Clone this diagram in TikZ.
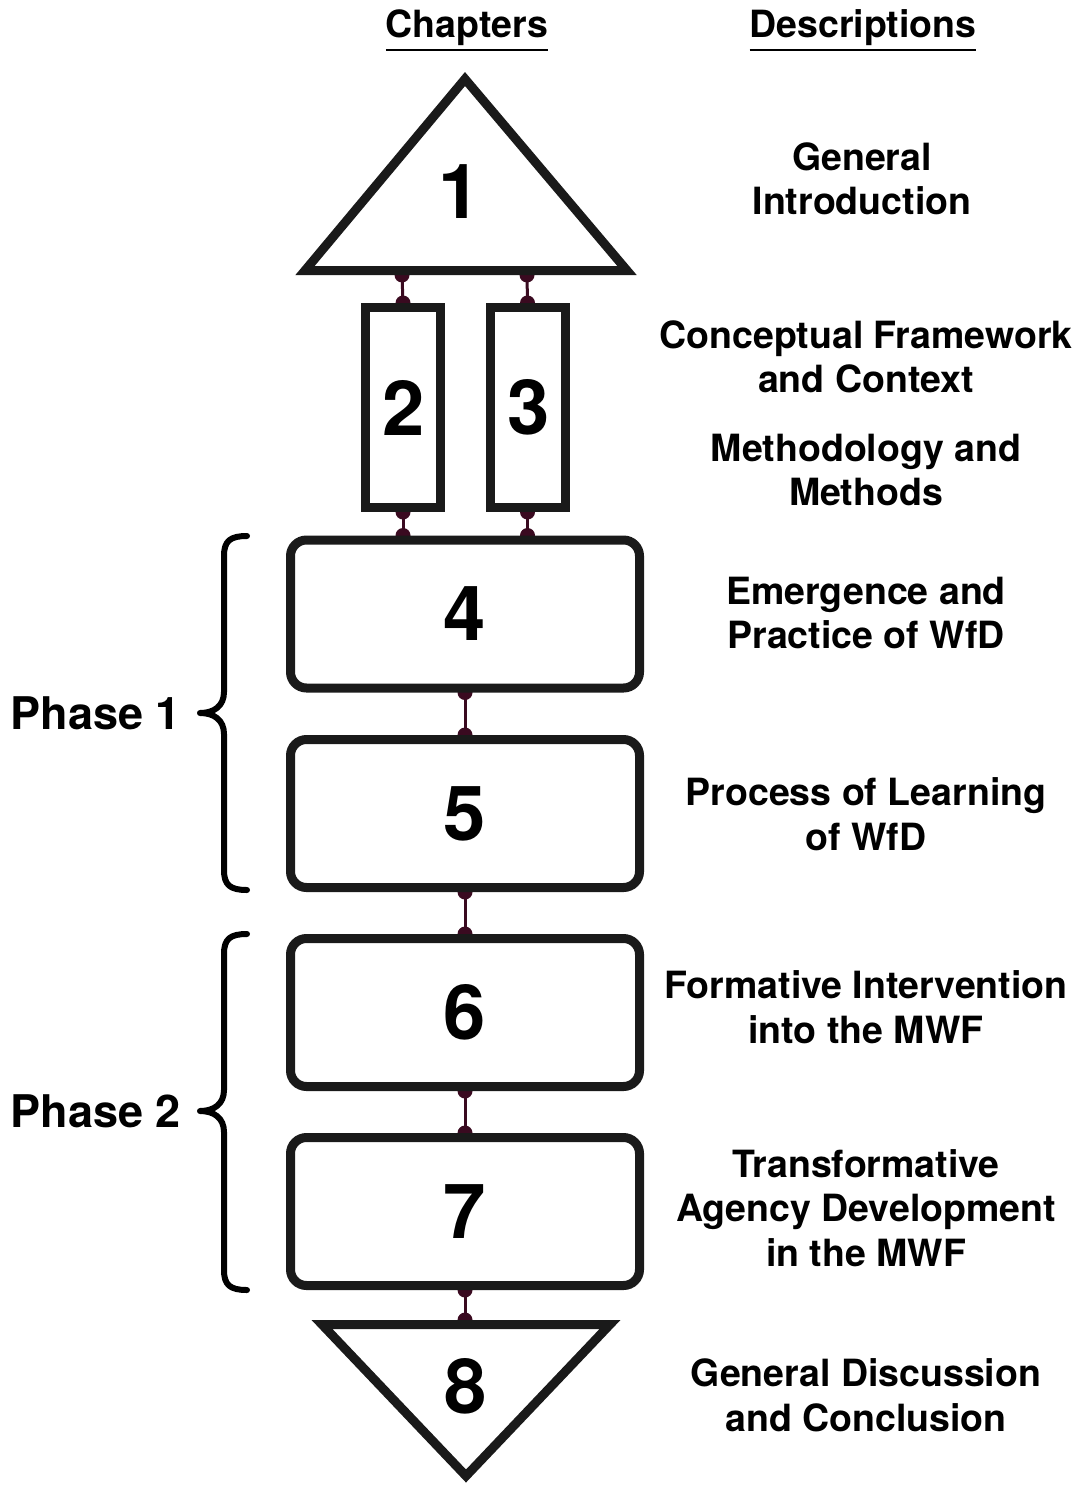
\documentclass[tikz,border=0pt]{standalone}
\usepackage{fontspec}
\setmainfont{TeX Gyre Heros}
\pgfdeclarelayer{links}
\pgfsetlayers{links,main}

% underlined column heading
\newcommand\colhead[1]{\vtop{\hbox{#1}\kern2.5pt\hrule height 2.8pt}}

\definecolor{linkred}{RGB}{58,10,32}
\definecolor{edge}{RGB}{26,26,26}

\tikzset{
  chapbox/.style={draw=edge, line width=9pt, fill=white, inner sep=0pt},
  tallbox/.style={chapbox, minimum width=75pt, minimum height=200pt},
  widebox/.style={chapbox, rounded corners=16pt, minimum width=349pt, minimum height=148pt},
  trishape/.style={draw=edge, line width=9pt, fill=white, line join=miter},
  num/.style={font=\fontsize{76}{80}\selectfont\bfseries, inner sep=0pt},
  desc/.style={font=\fontsize{37.5}{44.5}\selectfont\bfseries, align=center, inner sep=0pt},
  head/.style={font=\fontsize{37.5}{40}\selectfont\bfseries, inner sep=0pt, anchor=base},
  phase/.style={font=\fontsize{45}{48}\selectfont\bfseries, inner sep=0pt, anchor=east},
  link/.style={draw=linkred, line width=3pt},
  brace/.style={draw=black, line width=6pt, line cap=round, line join=round},
}

\begin{document}
\begin{tikzpicture}[x=1pt, y=-1pt]
\useasboundingbox (0,0) rectangle (1079,1488);

% column headings
\node[head] (hchap) at (467,38) {\colhead{Chapters}};
\node[head] (hdesc) at (863,38) {\colhead{Descriptions}};

% chapter 1: upward triangle
\draw[trishape] (305,270.5) -- (465,79) -- (627,270.5) -- cycle;
\node[num] (c1) at (460,192) {1};
\coordinate (t1a) at (402,275);
\coordinate (t1b) at (527,275);

% chapters 2 and 3
\node[tallbox] (c2) at (403,407.5) {};
\node[num] (n2) at (404,407.5) {2};
\node[tallbox] (c3) at (527.5,407.5) {};
\node[num] (n3) at (528.5,407.5) {3};

% chapters 4 to 7
\node[widebox] (c4) at (465,614) {};
\node[num] at (c4) {4};
\node[widebox] (c5) at (465,813.5) {};
\node[num] at (c5) {5};
\node[widebox] (c6) at (465,1012.5) {};
\node[num] at (c6) {6};
\node[widebox] (c7) at (465,1211.5) {};
\node[num] at (c7) {7};

% chapter 8: downward triangle
\draw[trishape] (322,1324.5) -- (610,1324.5) -- (466,1476) -- cycle;
\node[num] (c8) at (466,1386) {8};
\coordinate (t8) at (465,1320);

% links between chapters, with dots at both ends
\begin{pgfonlayer}{links}
  \foreach \a/\b in {t1a/c2.north, t1b/c3.north, c2.south/c2.south|-c4.north,
                     c3.south/c3.south|-c4.north,
                     c4.south/c5.north, c5.south/c6.north, c6.south/c7.north,
                     c7.south/t8} {
    \draw[link] (\a) -- (\b);
    \fill[linkred] (\a) circle (7.5pt);
    \fill[linkred] (\b) circle (7.5pt);
  }
\end{pgfonlayer}

% phase braces
\draw[brace] (247,536) .. controls (230,536) and (224,541) .. (224,556)
  -- (224,692) .. controls (224,706) and (214,713) .. (200,713)
  .. controls (214,713) and (224,720) .. (224,734)
  -- (224,870) .. controls (224,885) and (230,890) .. (247,890);
\draw[brace] (247,934) .. controls (230,934) and (224,939) .. (224,954)
  -- (224,1090) .. controls (224,1104) and (214,1111) .. (200,1111)
  .. controls (214,1111) and (224,1118) .. (224,1132)
  -- (224,1270) .. controls (224,1285) and (230,1290) .. (247,1290);
\node[phase] (p1) at (181,713) {Phase 1};
\node[phase] (p2) at (181,1111) {Phase 2};

% descriptions
\node[desc] (d1) at (862,179) {General\\Introduction};
\node[desc] (d2) at (866,357) {Conceptual Framework\\and Context};
\node[desc] (d3) at (866,470) {Methodology and\\Methods};
\node[desc] (d4) at (866,613) {Emergence and\\Practice of WfD};
\node[desc] (d5) at (866,814) {Process of Learning\\of WfD};
\node[desc] (d6) at (866,1007) {Formative Intervention\\into the MWF};
\node[desc] (d7) at (866,1208) {Transformative\\Agency Development\\in the MWF};
\node[desc] (d8) at (866,1395) {General Discussion\\and Conclusion};
\end{tikzpicture}
\end{document}
